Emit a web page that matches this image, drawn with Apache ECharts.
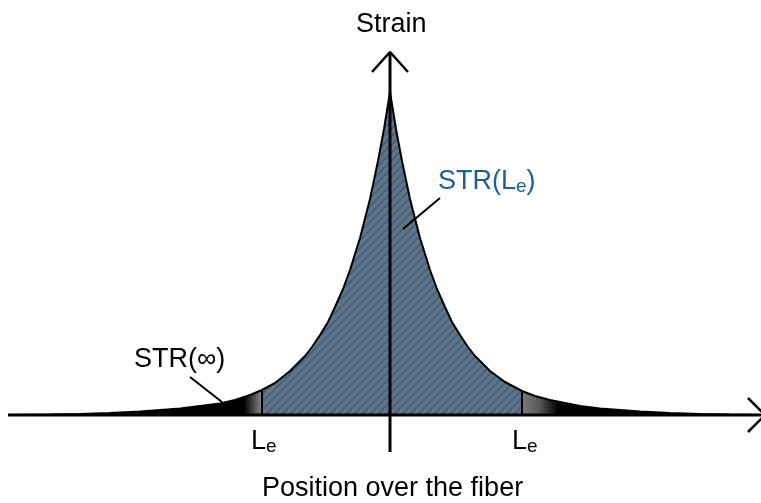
<!DOCTYPE html>
<html>
<head>
<meta charset="utf-8">
<script src="https://cdn.jsdelivr.net/npm/echarts@6/dist/echarts.min.js"></script>
<style>
  html, body { margin: 0; padding: 0; background: #fff; }
  #chart { width: 761px; height: 503px; }
</style>
</head>
<body>
<div id="chart"></div>
<script>
// position over the fiber (px from centre) and strain height (px above baseline)
var position = [-382, -340, -310, -280, -250, -230, -210, -190, -170, -155, -140, -128,
    -115, -100, -85, -78, -70, -62, -55, -47, -40, -30, -20, -12, -6, 0,
    6, 12, 20, 30, 40, 47, 55, 62, 70, 78, 85, 100, 115, 132,
    145, 160, 175, 190, 210, 230, 250, 280, 310, 340, 371];
var strain = [0, 0.4, 1, 2, 3.5, 5, 6.5, 9, 11.5, 15, 20, 25,
    32, 44, 59, 68, 80, 93, 108, 126, 145, 177, 216, 254, 286, 323,
    286, 254, 216, 177, 145, 126, 108, 93, 80, 68, 59, 44, 33, 24,
    19, 15, 12, 9, 6.5, 5, 3.5, 2, 1, 0.4, 0];
var leLeft = -128;
var leRight = 132;

var curve = position.map(function (p, i) { return [p, strain[i]]; });
var mid = curve.filter(function (d) { return d[0] >= leLeft && d[0] <= leRight; });
var tailL = curve.filter(function (d) { return d[0] <= leLeft; });
var tailR = curve.filter(function (d) { return d[0] >= leRight; });
function heightAt(x) {
    for (var i = 0; i < curve.length; i++) { if (curve[i][0] === x) return curve[i][1]; }
    return 0;
}

function hatch() {
    var c = document.createElement('canvas');
    c.width = 8; c.height = 8;
    var ctx = c.getContext('2d');
    ctx.fillStyle = '#717171';
    ctx.fillRect(0, 0, 8, 8);
    ctx.strokeStyle = '#2a66a0';
    ctx.lineWidth = 1.9;
    ctx.beginPath();
    ctx.moveTo(-2, 10); ctx.lineTo(10, -2);
    ctx.moveTo(-2, 2); ctx.lineTo(2, -2);
    ctx.moveTo(6, 10); ctx.lineTo(10, 6);
    ctx.stroke();
    return c;
}

var chart = echarts.init(document.getElementById('chart'));
var font = 'Liberation Sans, Arial, sans-serif';

function seg(data, width) {
    return {
        type: 'line', data: data, symbol: 'none', silent: true,
        lineStyle: { color: '#000', width: width || 2.5 }, z: 5
    };
}

function leLabel(x) {
    return { type: 'text', left: x, top: 428, style: {
        text: '{a|L}{b|e}',
        rich: { a: { fontSize: 27, fontFamily: font, lineHeight: 30, fill: '#000' },
                b: { fontSize: 19, fontFamily: font, lineHeight: 20, verticalAlign: 'bottom', fill: '#000' } } } };
}

var option = {
    animation: false,
    grid: { left: 0, right: 0, top: 0, bottom: 0 },
    xAxis: { type: 'value', min: -390, max: 371, show: false },
    yAxis: { type: 'value', min: -88, max: 415, show: false },
    graphic: [
        { type: 'text', left: 393 - 37, top: 11, style: { text: 'Strain', font: '27px ' + font, fill: '#000' } },
        { type: 'text', left: 262, top: 475, style: { text: 'Position over the fiber', font: '27px ' + font, fill: '#000' } },
        { type: 'text', left: 438, top: 168, style: {
            text: '{a|STR(L}{b|e}{a|)}', fill: '#1f5f95',
            rich: { a: { fontSize: 27, fontFamily: font, lineHeight: 30, fill: '#1f5f95' },
                    b: { fontSize: 19, fontFamily: font, lineHeight: 20, verticalAlign: 'bottom', fill: '#1f5f95' } } } },
        { type: 'text', left: 134, top: 346, style: { text: 'STR(\u221e)', font: '27px ' + font, fill: '#000' } },
        leLabel(251),
        leLabel(512)
    ],
    series: [
        {
            type: 'line', data: mid, symbol: 'none', silent: true,
            lineStyle: { width: 0 },
            areaStyle: { color: { image: hatch(), repeat: 'repeat' }, opacity: 1 }
        },
        {
            type: 'line', data: tailL, symbol: 'none', silent: true,
            lineStyle: { width: 0 },
            areaStyle: { opacity: 1, color: new echarts.graphic.LinearGradient(0, 0, 1, 0, [
                { offset: 0, color: '#000' }, { offset: 0.93, color: '#000' }, { offset: 1, color: '#8c8c8c' }]) }
        },
        {
            type: 'line', data: tailR, symbol: 'none', silent: true,
            lineStyle: { width: 0 },
            areaStyle: { opacity: 1, color: new echarts.graphic.LinearGradient(0, 0, 1, 0, [
                { offset: 0, color: '#7a7a7a' }, { offset: 0.07, color: '#5a5a5a' }, { offset: 0.15, color: '#000' }, { offset: 1, color: '#000' }]) }
        },
        seg(curve, 2),
        seg([[leLeft, 0], [leLeft, heightAt(leLeft)]], 2),
        seg([[leRight, 0], [leRight, heightAt(leRight)]], 2),
        seg([[-382, 0], [371, 0]], 3),
        seg([[0, -37], [0, 362]], 3),
        seg([[-18, 343], [0, 363], [18, 343]], 2.5),
        seg([[358, 17], [375, 0], [358, -17]], 2.5),
        seg([[50, 217], [13, 186]], 2),
        seg([[-200, 38], [-168, 13]], 2)
    ]
};
chart.setOption(option);
</script>
</body>
</html>
